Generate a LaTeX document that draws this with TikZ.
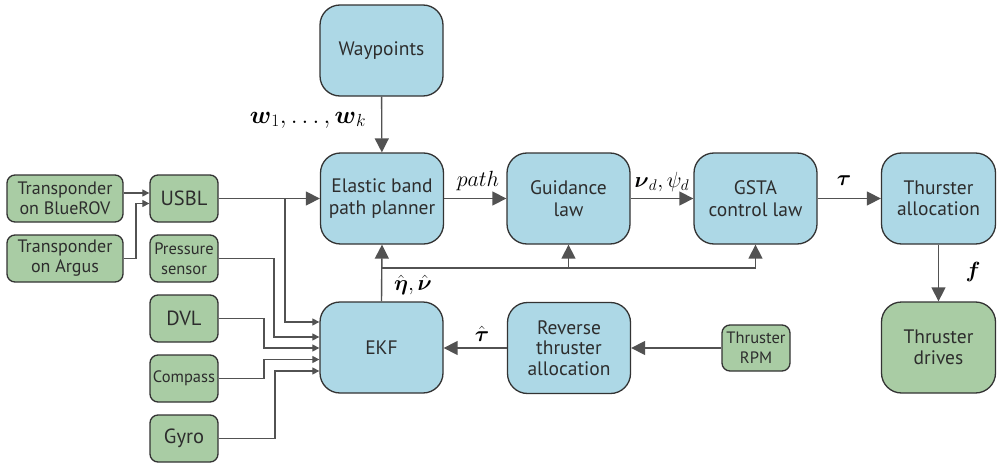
\documentclass[tikz,border=0pt]{standalone}
\usepackage{fix-cm}
\usepackage{amsmath}
\usepackage[no-math]{fontspec}
\setmainfont{PT Sans}
\usetikzlibrary{arrows.meta}

\definecolor{boxblue}{RGB}{173,216,230}
\definecolor{boxgreen}{RGB}{169,204,164}
\definecolor{edgegray}{RGB}{51,51,51}
\definecolor{linegray}{RGB}{82,82,82}
\definecolor{textgray}{RGB}{45,45,45}

\tikzset{
  blk/.style={draw=edgegray, line width=1.3pt, rounded corners=20pt, fill=boxblue,
    minimum width=123pt, minimum height=91pt, align=center, text=textgray,
    inner sep=0pt, font=\fontsize{19.5}{21.5}\selectfont},
  sens/.style={draw=edgegray, line width=1.3pt, rounded corners=8pt, fill=boxgreen,
    minimum width=68pt, minimum height=47pt, align=center, text=textgray,
    inner sep=0pt, font=\fontsize{16.5}{20}\selectfont},
  bigtext/.style={font=\fontsize{20.5}{24}\selectfont},
  midtext/.style={font=\fontsize{18}{20}\selectfont},
  big/.style={draw=linegray, line width=1.4pt, -{Triangle[length=14pt,width=14pt]}},
  small/.style={draw=linegray, line width=1.2pt, -{Triangle[length=7pt,width=7pt]}},
  lab/.style={inner sep=0pt, font=\fontsize{22}{24}\selectfont}
}

\begin{document}
\begin{tikzpicture}[x=1pt, y=-1pt]
  \useasboundingbox (0,0) rectangle (997,463);

  % processing blocks
  \node[blk] (way)     at (381.5,50.5)  {Waypoints};
  \node[blk] (elastic) at (382,198.5)   {Elastic band\\path planner};
  \node[blk] (guid)    at (568.5,198.5) {Guidance\\law};
  \node[blk] (gsta)    at (755.5,198.5) {GSTA\\control law};
  \node[blk, minimum width=114pt] (alloc) at (938.5,198.5) {Thurster\\allocation};
  \node[blk, minimum width=114pt, fill=boxgreen] (drives) at (938.5,347.5) {Thruster\\drives};
  \node[blk] (ekf)     at (381.5,347.5) {EKF};
  \node[blk, font=\fontsize{19.5}{20.5}\selectfont] (rev) at (569,348) {Reverse\\thruster\\allocation};

  % sensors
  \node[sens, minimum height=46pt] (rpm) at (756,348) {Thruster\\RPM};
  \node[sens, midtext, minimum width=116pt] (bluerov) at (65,198.5) {Transponder\\on BlueROV};
  \node[sens, midtext, minimum width=116pt] (argus)   at (65,258.5) {Transponder\\on Argus};
  \node[sens, bigtext] (usbl)    at (184,198.5) {USBL};
  \node[sens]          (press)   at (184,258.5) {Pressure\\sensor};
  \node[sens, bigtext] (dvl)     at (184,318.5) {DVL};
  \node[sens]          (compass) at (184,378.5) {Compass};
  \node[sens, bigtext] (gyro)    at (184,438.5) {Gyro};

  % main signal chain
  \draw[big] (way) -- (elastic);
  \draw[big] (usbl) -- (elastic);
  \draw[big] (elastic) -- (guid);
  \draw[big] (guid) -- (gsta);
  \draw[big] (gsta) -- (alloc);
  \draw[big] (alloc) -- (drives);
  \draw[big] (rpm) -- (rev);
  \draw[big] (rev.west) -- (ekf.east |- rev.west);

  % state estimate fed back to planner, guidance and controller
  \coordinate (fb) at (ekf.north |- 0,268);
  \draw[big] (ekf.north) -- (elastic.south);
  \draw[big] (fb) -| (gsta.south);
  \draw[big] (guid.south |- fb) -- (guid.south);

  % positioning inputs
  \draw[small] ([yshift=5.5pt]bluerov.east) -- (usbl.west |- 0,193);
  \draw[small] (argus.east) -| (136,203.5) -- (usbl.west |- 0,203.5);

  % measurements into the EKF
  \coordinate (usblsplit) at (285,198.5);
  \draw[small] (usblsplit) |- (ekf.west |- 0,322);
  \draw[small] (press.east) -| (274,337) -- (ekf.west |- 0,337);
  \draw[small] (dvl.east) -| (264,348) -- (ekf.west |- 0,348);
  \draw[small] (compass.east) -| (264,359.5) -- (ekf.west |- 0,359.5);
  \draw[small] (gyro.east) -| (275,371) -- (ekf.west |- 0,371);

  % signal labels
  \node[lab, font=\fontsize{25}{27}\selectfont] (lw) at (308,120) {$\boldsymbol{w}_1,\ldots,\boldsymbol{w}_k$};
  \node[lab] (lp)   at (478,181) {$path$};
  \node[lab] (lnu)  at (662,182) {$\boldsymbol{\nu}_d,\psi_d$};
  \node[lab] (ltau) at (844,181) {$\boldsymbol{\tau}$};
  \node[lab] (lf)   at (973,272) {$\boldsymbol{f}$};
  \node[lab] (leta) at (413,285) {$\hat{\boldsymbol{\eta}},\hat{\boldsymbol{\nu}}$};
  \node[lab] (lth)  at (482,334) {$\hat{\boldsymbol{\tau}}$};
\end{tikzpicture}
\end{document}
